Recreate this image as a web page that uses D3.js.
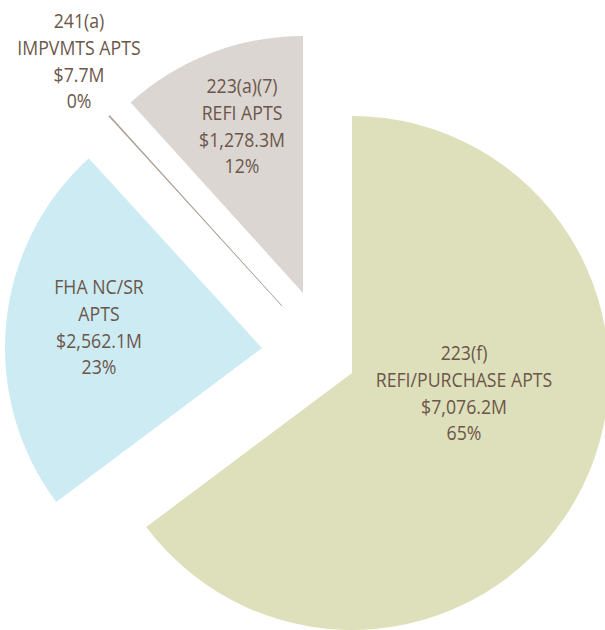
<!DOCTYPE html>
<html>
<head>
<meta charset="utf-8">
<script src="https://cdn.jsdelivr.net/npm/d3@7"></script>
<style>
  html, body { margin: 0; padding: 0; background: #ffffff; }
  svg { display: block; }
</style>
</head>
<body>
<svg id="chart" width="605" height="630"></svg>
<script>
// ---- data ----
const programs = ["223(f)", "FHA NC/SR", "241(a)", "223(a)(7)"];
const descriptions = ["REFI/PURCHASE APTS", "APTS", "IMPVMTS APTS", "REFI APTS"];
const amounts = [7076.2, 2562.1, 7.7, 1278.3]; // $ millions

// ---- styling / layout ----
const colors = ["#dee0bb", "#cdebf3", "#a69a91", "#dcd6d2"];
const textColor = "#6b5649";
const center = [310, 352];
const radius = 257;
// per-slice explode translation (px, relative to pie center)
const explode = [[42, 21], [-48, -4], [-28, -46], [-7, -59]];
// per-slice label anchor (first baseline, relative to pie center)
const labelAt = [[154, 8], [-211, -58], [-231, -324], [-68, -259]];
const lineHeight = 26.8;
const textScaleX = 0.885;

const total = d3.sum(amounts);
const fmtMoney = v => d3.format("$,.1f")(v) + "M";
const fmtPct = v => Math.round(v / total * 100) + "%";

const data = programs.map((p, i) => ({
  program: p,
  desc: descriptions[i],
  amount: amounts[i],
  color: colors[i],
  off: explode[i],
  lab: labelAt[i]
}));

const svg = d3.select("#chart");
const g = svg.append("g").attr("transform", `translate(${center[0]},${center[1]})`);

const pie = d3.pie().sort(null).value(d => d.amount).startAngle(0).endAngle(2 * Math.PI);
const arc = d3.arc().innerRadius(0).outerRadius(radius);

const arcs = pie(data);

g.selectAll("path.slice")
  .data(arcs)
  .join("path")
  .attr("class", "slice")
  .attr("transform", d => `translate(${d.data.off[0]},${d.data.off[1]})`)
  .attr("d", arc)
  .attr("fill", d => d.data.color)
  .attr("stroke", d => d.data.amount / total < 0.01 ? d.data.color : "none")
  .attr("stroke-width", d => d.data.amount / total < 0.01 ? 0.6 : 0);

const labels = g.selectAll("text.lbl")
  .data(arcs)
  .join("text")
  .attr("class", "lbl")
  .attr("transform", d => `translate(${d.data.lab[0]},${d.data.lab[1]}) scale(${textScaleX},1)`)
  .attr("text-anchor", "middle")
  .attr("font-family", "'Open Sans', 'Noto Sans', sans-serif")
  .attr("font-size", 20)
  .attr("fill", textColor);

labels.each(function(d) {
  const lines = [d.data.program, d.data.desc, fmtMoney(d.data.amount), fmtPct(d.data.amount)];
  d3.select(this).selectAll("tspan")
    .data(lines)
    .join("tspan")
    .attr("x", 0)
    .attr("y", (l, i) => i * lineHeight)
    .text(l => l);
});
</script>
</body>
</html>
